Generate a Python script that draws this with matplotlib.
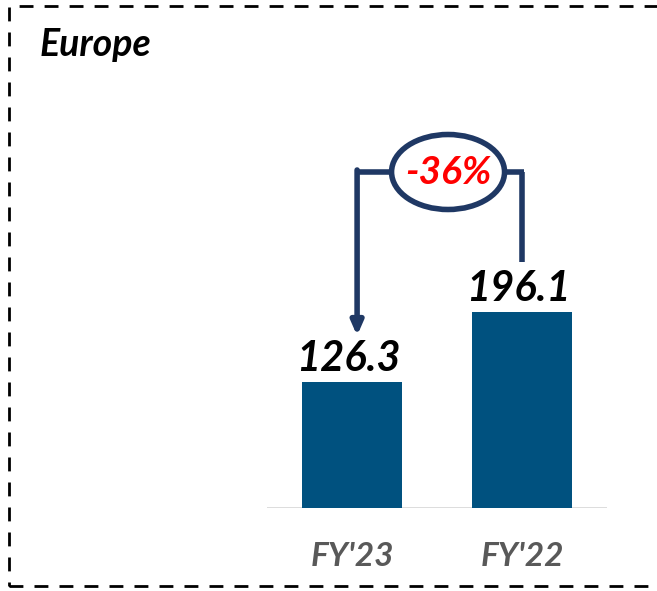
import matplotlib
matplotlib.use("Agg")
import matplotlib.pyplot as plt
from matplotlib.patches import Ellipse, Rectangle

plt.rcParams['font.family'] = ['Lato', 'DejaVu Sans']

categories = ["FY'23", "FY'22"]
values = [126.3, 196.1]
change_label = "-36%"

bar_color = '#00517f'
navy = '#1f3864'

W, H = 657, 591
fig = plt.figure(figsize=(W / 100, H / 100), dpi=100)

# dashed frame around the panel (right side runs off the canvas)
frame = Rectangle((9 / W, 1 - 586 / H), 700 / W, 580 / H, transform=fig.transFigure,
                  fill=False, edgecolor='black', linewidth=2, linestyle=(0, (5, 4)))
fig.patches.append(frame)

fig.text(40 / W, 1 - 44 / H, 'Europe', fontsize=27, fontweight='bold', fontstyle='italic',
         ha='left', va='center', color='black')

# bar axes: 1 px per unit vertically, baseline at y=508
ax = fig.add_axes([267 / W, 1 - 508 / H, 340 / W, 500 / H])
ax.set_xlim(-0.5, 1.5)
ax.set_ylim(0, 500)
x = list(range(len(categories)))
ax.bar(x, values, width=100 / 170, color=bar_color, zorder=2)
for s in ax.spines.values():
    s.set_visible(False)
ax.axhline(0, color='#d9d9d9', linewidth=2, zorder=1)
ax.set_xticks([])
ax.set_yticks([])

for xi, v in zip(x, values):
    ax.text(xi - 0.02, v + 4, f'{v:.1f}', ha='center', va='bottom', fontsize=30,
            fontweight='bold', fontstyle='italic', color='black')
for xi, c in zip(x, categories):
    ax.text(xi, -49, c, ha='center', va='center', fontsize=24,
            fontweight='bold', fontstyle='italic', color='#595959', clip_on=False)

# bracket from FY'22 down to FY'23 with the change bubble
top = 336
ex, ew, eh = 0.565, 113 / 170, 75
lx = 0.03
ax.plot([1.0, 1.0], [values[1] + 50, top], color=navy, lw=4, clip_on=False,
        solid_capstyle='butt')
ax.plot([ex + ew / 2, 1.0 + 0.012], [top, top], color=navy, lw=4, clip_on=False,
        solid_capstyle='butt')
ax.plot([lx - 0.012, ex - ew / 2], [top, top], color=navy, lw=4, clip_on=False,
        solid_capstyle='butt')
ax.annotate('', xy=(lx, values[0] + 46), xytext=(lx, top + 2),
            arrowprops=dict(arrowstyle='-|>,head_width=0.35,head_length=0.8',
                            color=navy, lw=4, shrinkA=0, shrinkB=0),
            annotation_clip=False)
ell = Ellipse((ex, top), ew, eh, facecolor='white', edgecolor=navy, lw=4,
              clip_on=False, zorder=5)
ax.add_patch(ell)
ax.text(ex, top - 1, change_label, ha='center', va='center', fontsize=28,
        fontweight='bold', fontstyle='italic', color='#ff0000', zorder=6)

fig.savefig('out.png', dpi=100)
